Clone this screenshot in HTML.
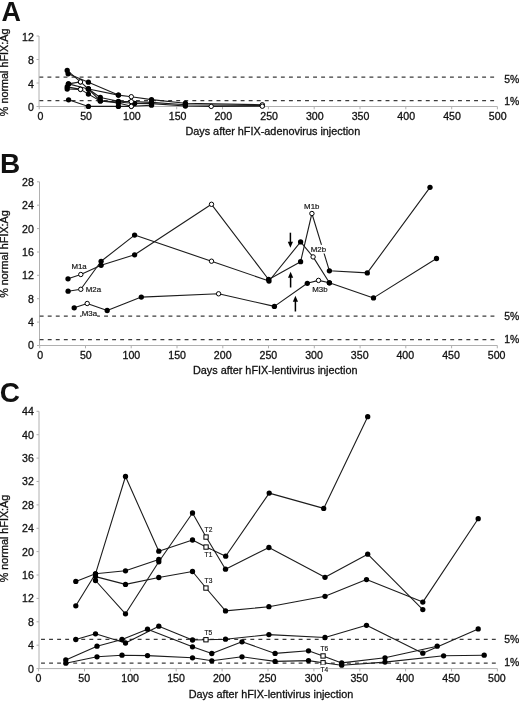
<!DOCTYPE html>
<html lang="en"><head><meta charset="utf-8"><title>Figure</title>
<style>
html,body{margin:0;padding:0;background:#fff;}
svg{display:block;will-change:transform;font-family:"Liberation Sans",Arial,Helvetica,sans-serif;}
</style></head>
<body>
<svg width="520" height="701" viewBox="0 0 520 701">
<rect width="520" height="701" fill="#fff"/>
<g stroke="#b0b0b0" stroke-width="1" fill="none">
<path d="M39.0 36.0V106.5H497.4"/>
<path d="M36.5 106.5H39.0M36.5 83.0H39.0M36.5 59.5H39.0M36.5 36.0H39.0M39.2 106.5v2.8M85.0 106.5v2.8M130.9 106.5v2.8M176.7 106.5v2.8M222.5 106.5v2.8M268.4 106.5v2.8M314.2 106.5v2.8M360.0 106.5v2.8M405.8 106.5v2.8M451.7 106.5v2.8M497.4 106.5v2.8"/>
</g>
<g stroke="#3c3c3c" stroke-width="1.25" stroke-dasharray="3.9 4.15">
<path d="M39.40 77.0H496.5"/>
<path d="M39.40 100.6H496.5"/>
</g>
<g font-size="10.6" fill="#111" stroke="#111" stroke-width="0.3">
<text x="33.8" y="111.0" text-anchor="end">0</text>
<text x="33.8" y="87.5" text-anchor="end">4</text>
<text x="33.8" y="64.0" text-anchor="end">8</text>
<text x="33.8" y="40.5" text-anchor="end">12</text>
<text x="40.4" y="120.1" text-anchor="middle">0</text>
<text x="86.1" y="120.1" text-anchor="middle">50</text>
<text x="131.9" y="120.1" text-anchor="middle">100</text>
<text x="177.6" y="120.1" text-anchor="middle">150</text>
<text x="223.3" y="120.1" text-anchor="middle">200</text>
<text x="269.1" y="120.1" text-anchor="middle">250</text>
<text x="314.8" y="120.1" text-anchor="middle">300</text>
<text x="360.5" y="120.1" text-anchor="middle">350</text>
<text x="406.2" y="120.1" text-anchor="middle">400</text>
<text x="452.0" y="120.1" text-anchor="middle">450</text>
<text x="497.7" y="120.1" text-anchor="middle">500</text>
<text x="504.2" y="82.5" font-size="10.4">5%</text>
<text x="504.2" y="104.5" font-size="10.4">1%</text>
<text x="272.8" y="135.0" text-anchor="middle" font-size="10.85">Days after hFIX-adenovirus injection</text>
<text transform="translate(8.4 72.4) rotate(-90)" text-anchor="middle" font-size="10.8">% normal hFIX:Ag</text>
</g>
<path d="M67.2 70.4L80.5 81.9L88.4 89.0L100.3 97.5L118.4 101.3L131.3 101.6L151.5 102.4L185.4 104.8L262.3 105.5" fill="none" stroke="#1c1c1c" stroke-width="1.1" stroke-linejoin="round"/>
<path d="M68.1 73.8L88.4 82.2L118.4 95.1L131.3 96.7L151.5 99.6L185.4 103.2L262.3 104.8" fill="none" stroke="#1c1c1c" stroke-width="1.1" stroke-linejoin="round"/>
<path d="M68.4 83.9L80.5 81.9" fill="none" stroke="#1c1c1c" stroke-width="1.1" stroke-linejoin="round"/>
<path d="M68.4 83.9L88.4 89.0L118.4 95.1" fill="none" stroke="#1c1c1c" stroke-width="1.1" stroke-linejoin="round"/>
<path d="M67.2 86.9L80.5 89.4L88.4 94.1L100.3 100.9L118.4 102.0L134.6 103.5L151.5 103.6L185.4 106.0L211.2 106.4L262.3 106.2" fill="none" stroke="#1c1c1c" stroke-width="1.1" stroke-linejoin="round"/>
<path d="M67.2 89.0L80.5 89.4" fill="none" stroke="#1c1c1c" stroke-width="1.1" stroke-linejoin="round"/>
<path d="M88.4 89.0L100.3 100.9L118.4 103.0L131.3 106.3L151.5 105.2" fill="none" stroke="#1c1c1c" stroke-width="1.1" stroke-linejoin="round"/>
<path d="M68.6 99.8L88.4 106.4L118.4 106.4L131.3 106.4" fill="none" stroke="#1c1c1c" stroke-width="1.1" stroke-linejoin="round"/>
<circle cx="67.2" cy="70.4" r="2.65" fill="#000"/>
<circle cx="88.4" cy="89.0" r="2.65" fill="#000"/>
<circle cx="100.3" cy="97.5" r="2.65" fill="#000"/>
<circle cx="118.4" cy="101.3" r="2.65" fill="#000"/>
<circle cx="151.5" cy="102.4" r="2.65" fill="#000"/>
<circle cx="185.4" cy="104.8" r="2.65" fill="#000"/>
<circle cx="262.3" cy="105.5" r="2.65" fill="#000"/>
<circle cx="68.1" cy="73.8" r="2.65" fill="#000"/>
<circle cx="88.4" cy="82.2" r="2.65" fill="#000"/>
<circle cx="118.4" cy="95.1" r="2.65" fill="#000"/>
<circle cx="151.5" cy="99.6" r="2.65" fill="#000"/>
<circle cx="185.4" cy="103.2" r="2.65" fill="#000"/>
<circle cx="68.4" cy="83.9" r="2.65" fill="#000"/>
<circle cx="68.4" cy="83.9" r="2.65" fill="#000"/>
<circle cx="88.4" cy="89.0" r="2.65" fill="#000"/>
<circle cx="118.4" cy="95.1" r="2.65" fill="#000"/>
<circle cx="67.2" cy="86.9" r="2.65" fill="#000"/>
<circle cx="88.4" cy="94.1" r="2.65" fill="#000"/>
<circle cx="100.3" cy="100.9" r="2.65" fill="#000"/>
<circle cx="118.4" cy="102.0" r="2.65" fill="#000"/>
<circle cx="134.6" cy="103.5" r="2.65" fill="#000"/>
<circle cx="151.5" cy="103.6" r="2.65" fill="#000"/>
<circle cx="185.4" cy="106.0" r="2.65" fill="#000"/>
<circle cx="67.2" cy="89.0" r="2.65" fill="#000"/>
<circle cx="88.4" cy="89.0" r="2.65" fill="#000"/>
<circle cx="100.3" cy="100.9" r="2.65" fill="#000"/>
<circle cx="118.4" cy="103.0" r="2.65" fill="#000"/>
<circle cx="151.5" cy="105.2" r="2.65" fill="#000"/>
<circle cx="68.6" cy="99.8" r="2.65" fill="#000"/>
<circle cx="88.4" cy="106.4" r="2.65" fill="#000"/>
<circle cx="118.4" cy="106.4" r="2.65" fill="#000"/>
<circle cx="80.5" cy="81.9" r="2.2" fill="#fff" stroke="#000" stroke-width="1"/>
<circle cx="131.3" cy="101.6" r="2.2" fill="#fff" stroke="#000" stroke-width="1"/>
<circle cx="131.3" cy="96.7" r="2.2" fill="#fff" stroke="#000" stroke-width="1"/>
<circle cx="262.3" cy="104.8" r="2.2" fill="#fff" stroke="#000" stroke-width="1"/>
<circle cx="80.5" cy="81.9" r="2.2" fill="#fff" stroke="#000" stroke-width="1"/>
<circle cx="80.5" cy="89.4" r="2.2" fill="#fff" stroke="#000" stroke-width="1"/>
<circle cx="211.2" cy="106.4" r="2.2" fill="#fff" stroke="#000" stroke-width="1"/>
<circle cx="262.3" cy="106.2" r="2.2" fill="#fff" stroke="#000" stroke-width="1"/>
<circle cx="80.5" cy="89.4" r="2.2" fill="#fff" stroke="#000" stroke-width="1"/>
<circle cx="131.3" cy="106.3" r="2.2" fill="#fff" stroke="#000" stroke-width="1"/>
<circle cx="131.3" cy="106.4" r="2.2" fill="#fff" stroke="#000" stroke-width="1"/>
<text font-weight="bold" x="1.6" y="21.3" font-size="26.9" fill="#111" text-anchor="start">A</text>
<g stroke="#b0b0b0" stroke-width="1" fill="none">
<path d="M39.5 181.8V345.5H497.4"/>
<path d="M37.0 345.5H39.5M37.0 322.1H39.5M37.0 298.7H39.5M37.0 275.3H39.5M37.0 252.0H39.5M37.0 228.6H39.5M37.0 205.2H39.5M37.0 181.8H39.5M39.7 345.5v2.8M85.5 345.5v2.8M131.2 345.5v2.8M177.0 345.5v2.8M222.8 345.5v2.8M268.5 345.5v2.8M314.3 345.5v2.8M360.1 345.5v2.8M405.8 345.5v2.8M451.6 345.5v2.8M497.3 345.5v2.8"/>
</g>
<g stroke="#3c3c3c" stroke-width="1.25" stroke-dasharray="3.9 4.15">
<path d="M39.70 316.0H496.5"/>
<path d="M39.70 339.5H496.5"/>
</g>
<g font-size="10.6" fill="#111" stroke="#111" stroke-width="0.3">
<text x="33.9" y="349.4" text-anchor="end">0</text>
<text x="33.9" y="326.0" text-anchor="end">4</text>
<text x="33.9" y="302.6" text-anchor="end">8</text>
<text x="33.9" y="279.2" text-anchor="end">12</text>
<text x="33.9" y="255.9" text-anchor="end">16</text>
<text x="33.9" y="232.5" text-anchor="end">20</text>
<text x="33.9" y="209.1" text-anchor="end">24</text>
<text x="33.9" y="185.7" text-anchor="end">28</text>
<text x="40.1" y="359.1" text-anchor="middle">0</text>
<text x="85.8" y="359.1" text-anchor="middle">50</text>
<text x="131.4" y="359.1" text-anchor="middle">100</text>
<text x="177.1" y="359.1" text-anchor="middle">150</text>
<text x="222.7" y="359.1" text-anchor="middle">200</text>
<text x="268.4" y="359.1" text-anchor="middle">250</text>
<text x="314.0" y="359.1" text-anchor="middle">300</text>
<text x="359.7" y="359.1" text-anchor="middle">350</text>
<text x="405.3" y="359.1" text-anchor="middle">400</text>
<text x="451.0" y="359.1" text-anchor="middle">450</text>
<text x="496.6" y="359.1" text-anchor="middle">500</text>
<text x="504.2" y="319.6" font-size="10.4">5%</text>
<text x="504.2" y="343.1" font-size="10.4">1%</text>
<text x="275.2" y="374.0" text-anchor="middle" font-size="10.85">Days after hFIX-lentivirus injection</text>
<text transform="translate(8.4 254.0) rotate(-90)" text-anchor="middle" font-size="10.8">% normal hFIX:Ag</text>
</g>
<path d="M68.0 278.8L80.8 274.5L101.1 265.3L134.6 254.8L211.5 204.3L268.6 279.5L300.6 261.7L311.9 213.5L329.4 270.8L367.3 272.9L430.0 187.3" fill="none" stroke="#1c1c1c" stroke-width="1.1" stroke-linejoin="round"/>
<path d="M68.1 291.2L80.8 289.3L101.1 261.3L134.6 235.1L211.5 261.2L269.0 281.0L300.6 241.9L313.1 256.9L329.4 282.8" fill="none" stroke="#1c1c1c" stroke-width="1.1" stroke-linejoin="round"/>
<path d="M74.2 307.8L87.2 303.5L107.2 310.5L141.3 297.1L218.6 293.8L274.4 306.4L307.3 283.3L318.5 280.4L329.4 282.8L373.5 297.9L436.5 258.5" fill="none" stroke="#1c1c1c" stroke-width="1.1" stroke-linejoin="round"/>
<circle cx="68.0" cy="278.8" r="2.65" fill="#000"/>
<circle cx="101.1" cy="265.3" r="2.65" fill="#000"/>
<circle cx="134.6" cy="254.8" r="2.65" fill="#000"/>
<circle cx="268.6" cy="279.5" r="2.65" fill="#000"/>
<circle cx="300.6" cy="261.7" r="2.65" fill="#000"/>
<circle cx="329.4" cy="270.8" r="2.65" fill="#000"/>
<circle cx="367.3" cy="272.9" r="2.65" fill="#000"/>
<circle cx="430.0" cy="187.3" r="2.65" fill="#000"/>
<circle cx="68.1" cy="291.2" r="2.65" fill="#000"/>
<circle cx="101.1" cy="261.3" r="2.65" fill="#000"/>
<circle cx="134.6" cy="235.1" r="2.65" fill="#000"/>
<circle cx="269.0" cy="281.0" r="2.65" fill="#000"/>
<circle cx="300.6" cy="241.9" r="2.65" fill="#000"/>
<circle cx="329.4" cy="282.8" r="2.65" fill="#000"/>
<circle cx="74.2" cy="307.8" r="2.65" fill="#000"/>
<circle cx="107.2" cy="310.5" r="2.65" fill="#000"/>
<circle cx="141.3" cy="297.1" r="2.65" fill="#000"/>
<circle cx="274.4" cy="306.4" r="2.65" fill="#000"/>
<circle cx="307.3" cy="283.3" r="2.65" fill="#000"/>
<circle cx="329.4" cy="282.8" r="2.65" fill="#000"/>
<circle cx="373.5" cy="297.9" r="2.65" fill="#000"/>
<circle cx="436.5" cy="258.5" r="2.65" fill="#000"/>
<circle cx="80.8" cy="274.5" r="2.2" fill="#fff" stroke="#000" stroke-width="1"/>
<circle cx="211.5" cy="204.3" r="2.2" fill="#fff" stroke="#000" stroke-width="1"/>
<circle cx="311.9" cy="213.5" r="2.2" fill="#fff" stroke="#000" stroke-width="1"/>
<circle cx="80.8" cy="289.3" r="2.2" fill="#fff" stroke="#000" stroke-width="1"/>
<circle cx="211.5" cy="261.2" r="2.2" fill="#fff" stroke="#000" stroke-width="1"/>
<circle cx="313.1" cy="256.9" r="2.2" fill="#fff" stroke="#000" stroke-width="1"/>
<circle cx="87.2" cy="303.5" r="2.2" fill="#fff" stroke="#000" stroke-width="1"/>
<circle cx="218.6" cy="293.8" r="2.2" fill="#fff" stroke="#000" stroke-width="1"/>
<circle cx="318.5" cy="280.4" r="2.2" fill="#fff" stroke="#000" stroke-width="1"/>
<rect x="71.4" y="261.8" width="15.4" height="8.7" fill="#fff"/>
<text x="71.4" y="268.9" font-size="7.9" fill="#111" stroke="#111" stroke-width="0.18" text-anchor="start">M1a</text>
<rect x="85.7" y="285.0" width="15.4" height="8.7" fill="#fff"/>
<text x="85.7" y="292.1" font-size="7.9" fill="#111" stroke="#111" stroke-width="0.18" text-anchor="start">M2a</text>
<rect x="81.7" y="308.9" width="15.4" height="8.7" fill="#fff"/>
<text x="81.7" y="316.0" font-size="7.9" fill="#111" stroke="#111" stroke-width="0.18" text-anchor="start">M3a</text>
<rect x="304.1" y="201.4" width="15.4" height="8.7" fill="#fff"/>
<text x="304.1" y="208.5" font-size="7.9" fill="#111" stroke="#111" stroke-width="0.18" text-anchor="start">M1b</text>
<rect x="310.8" y="244.8" width="15.4" height="8.7" fill="#fff"/>
<text x="310.8" y="251.9" font-size="7.9" fill="#111" stroke="#111" stroke-width="0.18" text-anchor="start">M2b</text>
<rect x="312.3" y="285.1" width="15.4" height="8.7" fill="#fff"/>
<text x="312.3" y="292.2" font-size="7.9" fill="#111" stroke="#111" stroke-width="0.18" text-anchor="start">M3b</text>
<path d="M290.4 232.7V243.7" stroke="#000" stroke-width="1.5" fill="none"/>
<path d="M290.4 247.7L287.8 241.7H293.0Z" fill="#000"/>
<path d="M290.6 287.5V275.7" stroke="#000" stroke-width="1.5" fill="none"/>
<path d="M290.6 271.7L288.0 277.7H293.2Z" fill="#000"/>
<path d="M295.4 311.5V299.8" stroke="#000" stroke-width="1.5" fill="none"/>
<path d="M295.4 295.8L292.8 301.8H298.0Z" fill="#000"/>
<text font-weight="bold" x="0.0" y="172.7" font-size="28" fill="#111" text-anchor="start">B</text>
<g stroke="#b0b0b0" stroke-width="1" fill="none">
<path d="M39.0 411.3V668.6H497.4"/>
<path d="M36.5 668.6H39.0M36.5 645.2H39.0M36.5 621.8H39.0M36.5 598.4H39.0M36.5 575.0H39.0M36.5 551.6H39.0M36.5 528.3H39.0M36.5 504.9H39.0M36.5 481.5H39.0M36.5 458.1H39.0M36.5 434.7H39.0M36.5 411.3H39.0M38.6 668.6v2.8M84.5 668.6v2.8M130.4 668.6v2.8M176.2 668.6v2.8M222.1 668.6v2.8M268.0 668.6v2.8M313.9 668.6v2.8M359.8 668.6v2.8M405.6 668.6v2.8M451.5 668.6v2.8M497.4 668.6v2.8"/>
</g>
<g stroke="#3c3c3c" stroke-width="1.25" stroke-dasharray="3.9 4.15">
<path d="M41.05 639.3H496.5"/>
<path d="M41.05 663.0H496.5"/>
</g>
<g font-size="10.6" fill="#111" stroke="#111" stroke-width="0.3">
<text x="33.8" y="672.5" text-anchor="end">0</text>
<text x="33.8" y="649.1" text-anchor="end">4</text>
<text x="33.8" y="625.7" text-anchor="end">8</text>
<text x="33.8" y="602.3" text-anchor="end">12</text>
<text x="33.8" y="578.9" text-anchor="end">16</text>
<text x="33.8" y="555.5" text-anchor="end">20</text>
<text x="33.8" y="532.2" text-anchor="end">24</text>
<text x="33.8" y="508.8" text-anchor="end">28</text>
<text x="33.8" y="485.4" text-anchor="end">32</text>
<text x="33.8" y="462.0" text-anchor="end">36</text>
<text x="33.8" y="438.6" text-anchor="end">40</text>
<text x="33.8" y="415.2" text-anchor="end">44</text>
<text x="38.4" y="682.2" text-anchor="middle">0</text>
<text x="84.2" y="682.2" text-anchor="middle">50</text>
<text x="130.1" y="682.2" text-anchor="middle">100</text>
<text x="176.0" y="682.2" text-anchor="middle">150</text>
<text x="221.8" y="682.2" text-anchor="middle">200</text>
<text x="267.6" y="682.2" text-anchor="middle">250</text>
<text x="313.5" y="682.2" text-anchor="middle">300</text>
<text x="359.3" y="682.2" text-anchor="middle">350</text>
<text x="405.2" y="682.2" text-anchor="middle">400</text>
<text x="451.1" y="682.2" text-anchor="middle">450</text>
<text x="496.9" y="682.2" text-anchor="middle">500</text>
<text x="504.2" y="643.0" font-size="10.4">5%</text>
<text x="504.2" y="665.6" font-size="10.4">1%</text>
<text x="271.0" y="697.7" text-anchor="middle" font-size="10.85">Days after hFIX-lentivirus injection</text>
<text transform="translate(8.4 538.5) rotate(-90)" text-anchor="middle" font-size="10.8">% normal hFIX:Ag</text>
</g>
<path d="M75.8 581.4L95.5 573.8L125.5 570.8L158.8 559.5" fill="none" stroke="#1c1c1c" stroke-width="1.1" stroke-linejoin="round"/>
<path d="M75.8 605.8L95.5 573.8L125.5 476.5L158.8 551.2L192.5 540.0L206.1 547.0L225.7 556.2L269.2 493.1L323.7 508.4L367.7 416.7" fill="none" stroke="#1c1c1c" stroke-width="1.1" stroke-linejoin="round"/>
<path d="M95.5 576.6L125.5 584.4L158.8 577.5L192.5 571.5L206.0 588.0L225.5 610.9L268.9 606.7L325.0 596.3L366.5 579.6L422.8 602.1L478.2 518.7" fill="none" stroke="#1c1c1c" stroke-width="1.1" stroke-linejoin="round"/>
<path d="M95.5 580.5L125.5 613.8L158.8 561.8L192.5 513.0L206.1 537.0L225.5 569.2L268.9 547.5L325.0 577.3L367.7 554.2L422.8 609.6" fill="none" stroke="#1c1c1c" stroke-width="1.1" stroke-linejoin="round"/>
<path d="M75.8 639.5L95.5 633.8L125.5 643.0L158.8 626.2L192.5 640.0L206.0 639.8L225.5 639.2L268.9 634.6L325.0 637.5L366.5 625.3L422.8 653.2L478.2 628.9" fill="none" stroke="#1c1c1c" stroke-width="1.1" stroke-linejoin="round"/>
<path d="M65.8 660.0L97.0 646.2L122.0 639.5L147.5 629.2L192.5 646.8L211.8 653.5L242.0 641.8L275.1 653.4L308.5 650.8L323.0 655.9L341.7 662.9L385.0 657.8L437.2 646.2" fill="none" stroke="#1c1c1c" stroke-width="1.1" stroke-linejoin="round"/>
<path d="M65.8 663.2L97.0 656.8L122.0 655.2L147.5 655.6L192.5 657.8L211.8 660.8L242.0 656.8L275.1 661.4L308.5 660.6L323.0 662.7L341.7 665.2L385.0 662.1L443.6 655.8L484.2 655.2" fill="none" stroke="#1c1c1c" stroke-width="1.1" stroke-linejoin="round"/>
<circle cx="75.8" cy="581.4" r="2.65" fill="#000"/>
<circle cx="95.5" cy="573.8" r="2.65" fill="#000"/>
<circle cx="125.5" cy="570.8" r="2.65" fill="#000"/>
<circle cx="158.8" cy="559.5" r="2.65" fill="#000"/>
<circle cx="75.8" cy="605.8" r="2.65" fill="#000"/>
<circle cx="95.5" cy="573.8" r="2.65" fill="#000"/>
<circle cx="125.5" cy="476.5" r="2.65" fill="#000"/>
<circle cx="158.8" cy="551.2" r="2.65" fill="#000"/>
<circle cx="192.5" cy="540.0" r="2.65" fill="#000"/>
<circle cx="225.7" cy="556.2" r="2.65" fill="#000"/>
<circle cx="269.2" cy="493.1" r="2.65" fill="#000"/>
<circle cx="323.7" cy="508.4" r="2.65" fill="#000"/>
<circle cx="367.7" cy="416.7" r="2.65" fill="#000"/>
<circle cx="95.5" cy="576.6" r="2.65" fill="#000"/>
<circle cx="125.5" cy="584.4" r="2.65" fill="#000"/>
<circle cx="158.8" cy="577.5" r="2.65" fill="#000"/>
<circle cx="192.5" cy="571.5" r="2.65" fill="#000"/>
<circle cx="225.5" cy="610.9" r="2.65" fill="#000"/>
<circle cx="268.9" cy="606.7" r="2.65" fill="#000"/>
<circle cx="325.0" cy="596.3" r="2.65" fill="#000"/>
<circle cx="366.5" cy="579.6" r="2.65" fill="#000"/>
<circle cx="422.8" cy="602.1" r="2.65" fill="#000"/>
<circle cx="478.2" cy="518.7" r="2.65" fill="#000"/>
<circle cx="95.5" cy="580.5" r="2.65" fill="#000"/>
<circle cx="125.5" cy="613.8" r="2.65" fill="#000"/>
<circle cx="158.8" cy="561.8" r="2.65" fill="#000"/>
<circle cx="192.5" cy="513.0" r="2.65" fill="#000"/>
<circle cx="225.5" cy="569.2" r="2.65" fill="#000"/>
<circle cx="268.9" cy="547.5" r="2.65" fill="#000"/>
<circle cx="325.0" cy="577.3" r="2.65" fill="#000"/>
<circle cx="367.7" cy="554.2" r="2.65" fill="#000"/>
<circle cx="422.8" cy="609.6" r="2.65" fill="#000"/>
<circle cx="75.8" cy="639.5" r="2.65" fill="#000"/>
<circle cx="95.5" cy="633.8" r="2.65" fill="#000"/>
<circle cx="125.5" cy="643.0" r="2.65" fill="#000"/>
<circle cx="158.8" cy="626.2" r="2.65" fill="#000"/>
<circle cx="192.5" cy="640.0" r="2.65" fill="#000"/>
<circle cx="225.5" cy="639.2" r="2.65" fill="#000"/>
<circle cx="268.9" cy="634.6" r="2.65" fill="#000"/>
<circle cx="325.0" cy="637.5" r="2.65" fill="#000"/>
<circle cx="366.5" cy="625.3" r="2.65" fill="#000"/>
<circle cx="422.8" cy="653.2" r="2.65" fill="#000"/>
<circle cx="478.2" cy="628.9" r="2.65" fill="#000"/>
<circle cx="65.8" cy="660.0" r="2.65" fill="#000"/>
<circle cx="97.0" cy="646.2" r="2.65" fill="#000"/>
<circle cx="122.0" cy="639.5" r="2.65" fill="#000"/>
<circle cx="147.5" cy="629.2" r="2.65" fill="#000"/>
<circle cx="192.5" cy="646.8" r="2.65" fill="#000"/>
<circle cx="211.8" cy="653.5" r="2.65" fill="#000"/>
<circle cx="242.0" cy="641.8" r="2.65" fill="#000"/>
<circle cx="275.1" cy="653.4" r="2.65" fill="#000"/>
<circle cx="308.5" cy="650.8" r="2.65" fill="#000"/>
<circle cx="341.7" cy="662.9" r="2.65" fill="#000"/>
<circle cx="385.0" cy="657.8" r="2.65" fill="#000"/>
<circle cx="437.2" cy="646.2" r="2.65" fill="#000"/>
<circle cx="65.8" cy="663.2" r="2.65" fill="#000"/>
<circle cx="97.0" cy="656.8" r="2.65" fill="#000"/>
<circle cx="122.0" cy="655.2" r="2.65" fill="#000"/>
<circle cx="147.5" cy="655.6" r="2.65" fill="#000"/>
<circle cx="192.5" cy="657.8" r="2.65" fill="#000"/>
<circle cx="211.8" cy="660.8" r="2.65" fill="#000"/>
<circle cx="242.0" cy="656.8" r="2.65" fill="#000"/>
<circle cx="275.1" cy="661.4" r="2.65" fill="#000"/>
<circle cx="308.5" cy="660.6" r="2.65" fill="#000"/>
<circle cx="341.7" cy="665.2" r="2.65" fill="#000"/>
<circle cx="385.0" cy="662.1" r="2.65" fill="#000"/>
<circle cx="443.6" cy="655.8" r="2.65" fill="#000"/>
<circle cx="484.2" cy="655.2" r="2.65" fill="#000"/>
<rect x="203.9" y="544.9" width="4.3" height="4.3" fill="#fff" stroke="#000" stroke-width="1"/>
<rect x="203.8" y="585.9" width="4.3" height="4.3" fill="#fff" stroke="#000" stroke-width="1"/>
<rect x="203.9" y="534.9" width="4.3" height="4.3" fill="#fff" stroke="#000" stroke-width="1"/>
<rect x="203.8" y="637.6" width="4.3" height="4.3" fill="#fff" stroke="#000" stroke-width="1"/>
<rect x="320.9" y="653.8" width="4.3" height="4.3" fill="#fff" stroke="#000" stroke-width="1"/>
<rect x="320.9" y="660.6" width="4.3" height="4.3" fill="#fff" stroke="#000" stroke-width="1"/>
<rect x="204.6" y="524.7" width="7.7" height="8.5" fill="#fff"/>
<text x="204.6" y="531.6" font-size="7.7" fill="#111" stroke="#111" stroke-width="0.18" text-anchor="start" textLength="7.73" lengthAdjust="spacingAndGlyphs">T2</text>
<rect x="204.6" y="550.0" width="7.7" height="8.5" fill="#fff"/>
<text x="204.6" y="556.9" font-size="7.7" fill="#111" stroke="#111" stroke-width="0.18" text-anchor="start" textLength="7.73" lengthAdjust="spacingAndGlyphs">T1</text>
<rect x="204.6" y="576.4" width="7.7" height="8.5" fill="#fff"/>
<text x="204.6" y="583.3" font-size="7.7" fill="#111" stroke="#111" stroke-width="0.18" text-anchor="start" textLength="7.73" lengthAdjust="spacingAndGlyphs">T3</text>
<rect x="204.4" y="628.1" width="7.7" height="8.5" fill="#fff"/>
<text x="204.4" y="635.0" font-size="7.7" fill="#111" stroke="#111" stroke-width="0.18" text-anchor="start" textLength="7.73" lengthAdjust="spacingAndGlyphs">T5</text>
<rect x="320.4" y="643.9" width="7.7" height="8.5" fill="#fff"/>
<text x="320.4" y="650.8" font-size="7.7" fill="#111" stroke="#111" stroke-width="0.18" text-anchor="start" textLength="7.73" lengthAdjust="spacingAndGlyphs">T6</text>
<rect x="320.5" y="664.7" width="7.7" height="8.5" fill="#fff"/>
<text x="320.5" y="671.6" font-size="7.7" fill="#111" stroke="#111" stroke-width="0.18" text-anchor="start" textLength="7.73" lengthAdjust="spacingAndGlyphs">T4</text>
<text font-weight="bold" x="-0.2" y="402.3" font-size="28" fill="#111" text-anchor="start">C</text>
</svg>
</body></html>
